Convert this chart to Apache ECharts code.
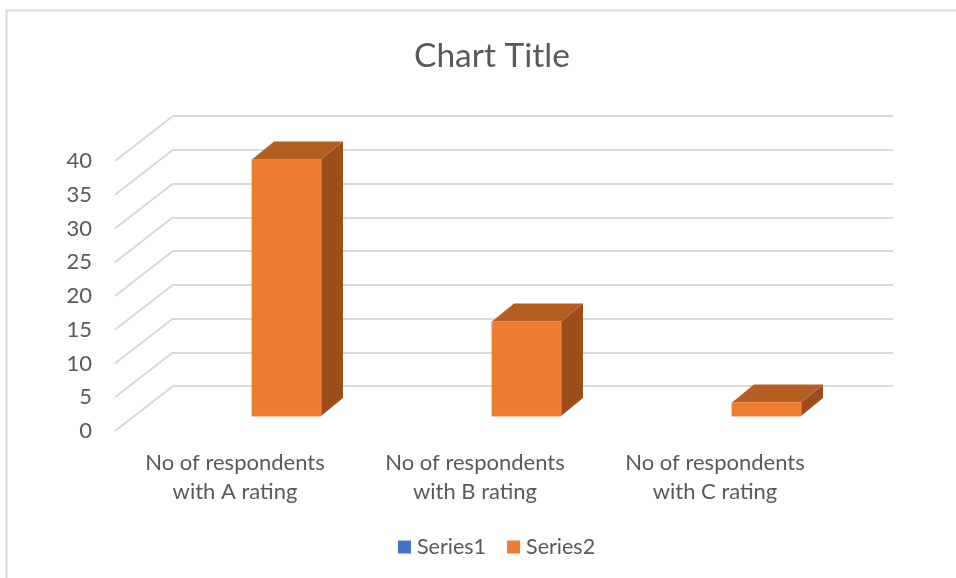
<!DOCTYPE html>
<html>
<head>
<meta charset="utf-8">
<script src="https://cdn.jsdelivr.net/npm/echarts@6/dist/echarts.min.js"></script>
<style>
html,body{margin:0;padding:0;background:#fff;}
#chart{width:956px;height:578px;}
</style>
</head>
<body>
<div id="chart"></div>
<script>
// ---- data ----
const categories = ['No of respondents\nwith A rating', 'No of respondents\nwith B rating', 'No of respondents\nwith C rating'];
const series1Values = [null, null, null];
const series2Values = [38, 14, 2];
const yTicks = [0, 5, 10, 15, 20, 25, 30, 35, 40];
const yMin = 0, yMax = 40, yStep = 5;

// ---- styles ----
const FONT = 'Lato';
const TEXT = '#595959';
const GRID = '#d9d9d9';
const DEPTH_DX = 22, DEPTH_DY = -18;        // bar depth offset
const WALL_DX = -58, WALL_DY = 45;          // side wall depth offset
const BAR_FRAC = 0.2875;

const chart = echarts.init(document.getElementById('chart'), null, {renderer: 'canvas'});

const option = {
  backgroundColor: '#fff',
  animation: false,
  textStyle: {fontFamily: FONT},
  title: {
    text: 'Chart Title', left: 409, top: 34,
    textStyle: {fontFamily: FONT, fontSize: 33.5, fontWeight: 'normal', color: TEXT}
  },
  legend: {
    bottom: 15, left: 393,
    icon: 'rect', itemWidth: 13, itemHeight: 13, itemGap: 21,
    textStyle: {fontFamily: FONT, fontSize: 21.5, color: TEXT, padding: [0, 0, 0, 1]},
    data: ['Series1', 'Series2']
  },
  graphic: [{
    type: 'rect', silent: true, z: -10,
    shape: {x: 6.5, y: 10.5, width: 1000, height: 1000},
    style: {fill: 'none', stroke: GRID, lineWidth: 2}
  }],
  grid: [
    // back wall
    {left: 173, right: 63, top: 116, bottom: 192},
    // front plane (axis labels)
    {left: 115, right: 121, top: 161, bottom: 147},
    // bar front plane
    {left: 166.5, right: 69.5, top: 146, bottom: 162}
  ],
  xAxis: [
    {gridIndex: 0, type: 'category', data: categories, axisLine: {show: false}, axisTick: {show: false}, axisLabel: {show: false}},
    {gridIndex: 1, type: 'category', data: categories, axisLine: {show: false}, axisTick: {show: false},
      axisLabel: {fontFamily: FONT, fontSize: 22, color: TEXT, lineHeight: 29, margin: 17, interval: 0}},
    {gridIndex: 2, type: 'category', data: categories, show: false}
  ],
  yAxis: [
    {gridIndex: 0, type: 'value', min: yMin, max: yMax, interval: yStep, axisLabel: {show: false},
      axisLine: {show: false}, axisTick: {show: false}, splitLine: {lineStyle: {color: GRID, width: 2}}},
    {gridIndex: 1, type: 'value', min: yMin, max: yMax, interval: yStep,
      axisLine: {show: false}, axisTick: {show: false}, splitLine: {show: false},
      axisLabel: {fontFamily: FONT, fontSize: 22, color: TEXT, margin: 23}},
    {gridIndex: 2, type: 'value', min: yMin, max: yMax, interval: yStep, show: false, splitLine: {show: false}}
  ],
  series: [
    {
      name: 'wall', type: 'custom', xAxisIndex: 0, yAxisIndex: 0, silent: true, z: 1,
      data: yTicks.map(v => [0, v]),
      renderItem: function (params, api) {
        const c = api.coord([0, api.value(1)]);
        const bw = api.size([1, 0])[0];
        const x0 = c[0] - bw / 2;
        return {
          type: 'line',
          shape: {x1: x0, y1: c[1], x2: x0 + WALL_DX, y2: c[1] + WALL_DY},
          style: {stroke: GRID, lineWidth: 2}
        };
      }
    },
    {
      name: 'Series1', type: 'bar', xAxisIndex: 2, yAxisIndex: 2,
      itemStyle: {color: '#4472C4'}, data: series1Values
    },
    {
      name: 'Series2', type: 'custom', xAxisIndex: 2, yAxisIndex: 2, z: 5,
      itemStyle: {color: '#ED7D31'},
      data: series2Values.map((v, i) => [i, v]),
      renderItem: function (params, api) {
        const top = api.coord([api.value(0), api.value(1)]);
        const base = api.coord([api.value(0), 0]);
        const bw = api.size([1, 0])[0] * BAR_FRAC;
        const xl = top[0] - bw / 2, xr = top[0] + bw / 2;
        const yt = top[1], yb = base[1];
        return {
          type: 'group',
          children: [
            {type: 'polygon', shape: {points: [[xr, yt], [xr + DEPTH_DX, yt + DEPTH_DY], [xr + DEPTH_DX, yb + DEPTH_DY], [xr, yb]]},
              style: {fill: '#9B4E1C'}},
            {type: 'polygon', shape: {points: [[xl, yt], [xl + DEPTH_DX, yt + DEPTH_DY], [xr + DEPTH_DX, yt + DEPTH_DY], [xr, yt]]},
              style: {fill: '#B55E22'}},
            {type: 'rect', shape: {x: xl, y: yt, width: bw, height: yb - yt},
              style: {fill: '#ED7D31', stroke: '#F08A45', lineWidth: 1}}
          ]
        };
      }
    }
  ]
};
chart.setOption(option);
</script>
</body>
</html>
